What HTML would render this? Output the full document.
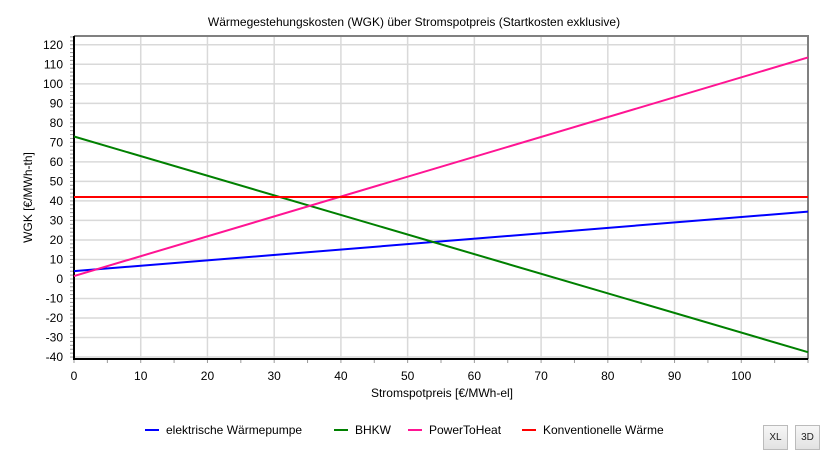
<!DOCTYPE html>
<html><head><meta charset="utf-8">
<style>
body{margin:0;background:#fff;font-family:"Liberation Sans",sans-serif;}
.btn{position:absolute;width:23px;height:23px;border:1px solid #bbb;background:linear-gradient(#f6f6f6,#e2e2e2);font-size:10px;text-align:center;line-height:23px;color:#222;}
</style></head>
<body>
<div style="position:relative;width:828px;height:457px;overflow:hidden">
<svg id="chart" width="828" height="457" style="position:absolute;left:0;top:0" font-family="Liberation Sans, sans-serif"></svg>
<div class="btn" style="left:763px;top:425px">XL</div>
<div class="btn" style="left:795px;top:425px">3D</div>
</div>
<script>
const xTicks=[0,10,20,30,40,50,60,70,80,90,100];
const yTicks=[-40,-30,-20,-10,0,10,20,30,40,50,60,70,80,90,100,110,120];
const seriesNames=["elektrische Wärmepumpe","BHKW","PowerToHeat","Konventionelle Wärme"];
const seriesColors=["#0000ff","#008000","#ff1493","#ff0000"];
const xValues=[0,110];
const wpValues=[4,34.5];
const bhkwValues=[73,-37.5];
const pthValues=[1.5,113.5];
const konvValues=[42,42];
const allSeries=[wpValues,bhkwValues,pthValues,konvValues];

const L=74,R=808,T=36,B=359,xMin=0,xMax=110,yMin=-41,yMax=124.5;
const X=v=>L+(v-xMin)/(xMax-xMin)*(R-L);
const Y=v=>B-(v-yMin)/(yMax-yMin)*(B-T);
const svg=document.getElementById('chart');
const NS="http://www.w3.org/2000/svg";
function mk(t,a){const e=document.createElementNS(NS,t);for(const k in a)e.setAttribute(k,a[k]);svg.appendChild(e);return e;}

xTicks.forEach(v=>{if(v===0)return;const g=mk('line',{x1:X(v),x2:X(v),y1:T,y2:B,stroke:'#d9d9d9','stroke-width':1.5});

});
yTicks.forEach(v=>{const g=mk('line',{x1:L,x2:R,y1:Y(v),y2:Y(v),stroke:'#d9d9d9','stroke-width':1.5});

});
for(let v=-40;v<=124;v+=2){const t=mk('line',{x1:L-4,x2:L,y1:Y(v),y2:Y(v),stroke:'#999','stroke-width':1});

}
for(let v=0;v<=110;v+=5){const t=mk('line',{x1:X(v),x2:X(v),y1:B,y2:B+4,stroke:'#999','stroke-width':1});

}
const fr=mk('path',{d:`M${L},${T}H${R}V${B}`,fill:'none',stroke:'#808080','stroke-width':2});


const ax=mk('path',{d:`M${L},${T}V${B}H${R}`,fill:'none',stroke:'#000','stroke-width':2});


yTicks.forEach(v=>{const t=mk('text',{x:L-11,y:Y(v)+4,'text-anchor':'end','font-size':12,fill:'#000'});t.textContent=v;

});
xTicks.forEach(v=>{const t=mk('text',{x:X(v),y:B+21,'text-anchor':'middle','font-size':12,fill:'#000'});t.textContent=v;

});
allSeries.forEach((s,i)=>{const p=mk('polyline',{points:s.map((v,j)=>X(xValues[j])+','+Y(v)).join(' '),fill:'none',stroke:seriesColors[i],'stroke-width':2});

});
let t=mk('text',{x:414,y:26,'text-anchor':'middle','font-size':12,fill:'#000'});t.textContent='Wärmegestehungskosten (WGK) über Stromspotpreis (Startkosten exklusive)';


t=mk('text',{x:442,y:397,'text-anchor':'middle','font-size':12,fill:'#000'});t.textContent='Stromspotpreis [€/MWh-el]';


t=mk('text',{x:0,y:0,'text-anchor':'middle','font-size':12,fill:'#000',transform:`translate(32,${(T+B)/2}) rotate(-90)`});t.textContent='WGK [€/MWh-th]';


const legX=[145,334,408,522];
seriesNames.forEach((n,i)=>{const l=mk('line',{x1:legX[i],x2:legX[i]+14,y1:430,y2:430,stroke:seriesColors[i],'stroke-width':2});


const tx=mk('text',{x:legX[i]+21,y:434,'font-size':12,fill:'#000'});tx.textContent=n;

});
</script>
</body></html>
